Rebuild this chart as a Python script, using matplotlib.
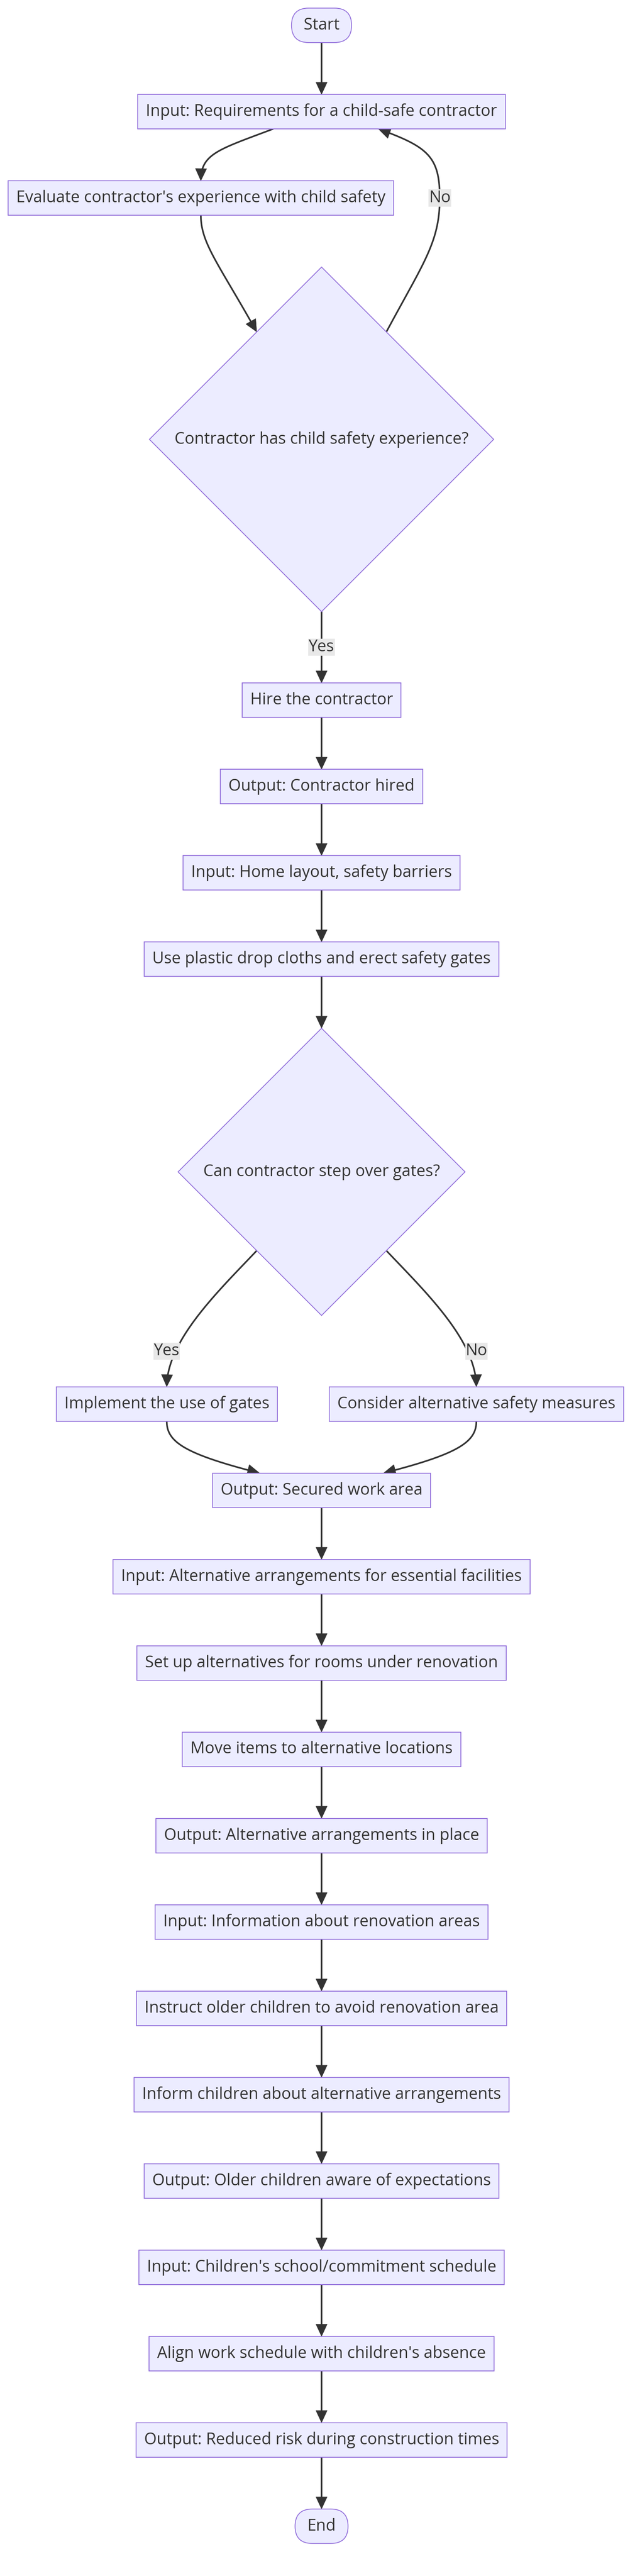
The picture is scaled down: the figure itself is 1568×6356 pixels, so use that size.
import numpy as np
import matplotlib.pyplot as plt
from matplotlib.patches import Polygon, Rectangle, FancyBboxPatch

W, H = 1568, 6356
FILL = '#ECECFF'
STROKE = '#9370DB'
INK = '#333333'
LABEL_BG = '#E8E8E8'
FONT = ['Open Sans', 'DejaVu Sans']
WEIGHT = 'medium'

# ---- flowchart content ----
node_text = [
    "Start",
    "Input: Requirements for a child-safe contractor",
    "Evaluate contractor's experience with child safety",
    "Contractor has child safety experience?",
    "Hire the contractor",
    "Output: Contractor hired",
    "Input: Home layout, safety barriers",
    "Use plastic drop cloths and erect safety gates",
    "Can contractor step over gates?",
    "Implement the use of gates",
    "Consider alternative safety measures",
    "Output: Secured work area",
    "Input: Alternative arrangements for essential facilities",
    "Set up alternatives for rooms under renovation",
    "Move items to alternative locations",
    "Output: Alternative arrangements in place",
    "Input: Information about renovation areas",
    "Instruct older children to avoid renovation area",
    "Inform children about alternative arrangements",
    "Output: Older children aware of expectations",
    "Input: Children's school/commitment schedule",
    "Align work schedule with children's absence",
    "Output: Reduced risk during construction times",
    "End",
]
node_shape = ['stadium'] + ['box'] * 2 + ['diamond'] + ['box'] * 4 + ['diamond'] + ['box'] * 14 + ['stadium']
node_rank = [0, 1, 2, 3, 4, 5, 6, 7, 8, 9, 9, 10, 11, 12, 13, 14, 15, 16, 17, 18, 19, 20, 21, 22]
node_lane = ['c', 'c', 'west', 'c', 'c', 'c', 'c', 'c', 'c', 'pairL', 'pairR'] + ['c'] * 13

edge_src = [0, 1, 2, 3, 3, 4, 5, 6, 7, 8, 8, 9, 10, 11, 12, 13, 14, 15, 16, 17, 18, 19, 20, 21, 22]
edge_dst = [1, 2, 3, 4, 1, 5, 6, 7, 8, 9, 10, 11, 11, 12, 13, 14, 15, 16, 17, 18, 19, 20, 21, 22, 23]
edge_label = ['', '', '', 'Yes', 'No', '', '', '', '', 'Yes', 'No'] + [''] * 14

# ---- layout constants (pixels) ----
TOP = 20
CX = 794
MARGIN = 20
BOX_H = 85
GAP = 128
GAP_LABEL = 176
PAIR_GAP = 128
PAD_BOX = 20
PAD_STADIUM = 30
DIAMOND_PAD = 62
DIAG_OFF = 160
HEAD_L = 30
HEAD_HW = 14
LINE_W = 4 * 0.72

fig = plt.figure(figsize=(W / 100, H / 100), dpi=100)
ax = fig.add_axes([0, 0, 1, 1])
ax.set_xlim(0, W)
ax.set_ylim(H, 0)
ax.axis('off')
renderer = fig.canvas.get_renderer()


def text_width(s, size):
    t = ax.text(0, 0, s, fontsize=size, family=FONT, fontweight=WEIGHT)
    w = t.get_window_extent(renderer).width
    t.remove()
    return w


# font size chosen so the widest-known line matches the picture (866 px)
FS = 30 * 866 / text_width(node_text[1], 30)

n = len(node_text)
tw = [text_width(s, FS) for s in node_text]
nw, nh = [], []
for i in range(n):
    if node_shape[i] == 'diamond':
        half = tw[i] / 2 + DIAMOND_PAD
        nw.append(2 * half)
        nh.append(2 * half)
    elif node_shape[i] == 'stadium':
        nw.append(tw[i] + 2 * PAD_STADIUM)
        nh.append(BOX_H)
    else:
        nw.append(tw[i] + 2 * PAD_BOX)
        nh.append(BOX_H)

# vertical placement by rank
n_ranks = max(node_rank) + 1
rank_h = [max(nh[i] for i in range(n) if node_rank[i] == r) for r in range(n_ranks)]
labelled_rank = {node_rank[s] for s, d, l in zip(edge_src, edge_dst, edge_label)
                 if l and node_rank[d] > node_rank[s]}
rank_top = []
y = TOP
for r in range(n_ranks):
    rank_top.append(y)
    y += rank_h[r] + (GAP_LABEL if r in labelled_rank else GAP)

ny = [rank_top[node_rank[i]] + rank_h[node_rank[i]] / 2 for i in range(n)]
pair = [i for i in range(n) if node_lane[i] in ('pairL', 'pairR')]
pair_d = (sum(nw[i] for i in pair) / 2 + PAIR_GAP) / 2
nx = []
for i in range(n):
    lane = node_lane[i]
    if lane == 'west':
        nx.append(MARGIN + nw[i] / 2)
    elif lane == 'pairL':
        nx.append(CX - pair_d)
    elif lane == 'pairR':
        nx.append(CX + pair_d)
    else:
        nx.append(CX)


def top(i):
    return ny[i] - nh[i] / 2


def bottom(i):
    return ny[i] + nh[i] / 2


# ---- nodes ----
for i in range(n):
    x, yc, w, h = nx[i], ny[i], nw[i], nh[i]
    if node_shape[i] == 'diamond':
        p = Polygon([(x, yc - h / 2), (x + w / 2, yc), (x, yc + h / 2), (x - w / 2, yc)],
                    closed=True, fc=FILL, ec=STROKE, lw=1.5, zorder=3)
    elif node_shape[i] == 'stadium':
        p = FancyBboxPatch((x - w / 2, yc - h / 2), w, h,
                           boxstyle=f'round,pad=0,rounding_size={h / 2}',
                           fc=FILL, ec=STROKE, lw=1.5, zorder=3)
    else:
        p = Rectangle((x - w / 2, yc - h / 2), w, h, fc=FILL, ec=STROKE, lw=1.5, zorder=3)
    ax.add_patch(p)
    ax.text(x, yc, node_text[i], ha='center', va='center', fontsize=FS,
            color=INK, family=FONT, fontweight=WEIGHT, zorder=4)


# ---- edges ----
def bez(p0, p3, f1, f2, num=80):
    p0 = np.asarray(p0, float)
    p3 = np.asarray(p3, float)
    d = p3 - p0
    p1 = p0 + np.asarray(f1) * d
    p2 = p0 + np.asarray(f2) * d
    t = np.linspace(0, 1, num)[:, None]
    return (1 - t) ** 3 * p0 + 3 * (1 - t) ** 2 * t * p1 + 3 * (1 - t) * t ** 2 * p2 + t ** 3 * p3


def draw_arrow(pts):
    tip = pts[-1]
    d = pts[-1] - pts[-3]
    d = d / np.hypot(*d)
    base = tip - d * HEAD_L
    dist = np.hypot(*(pts - tip).T)
    keep = pts[dist > HEAD_L - 2]
    line = np.vstack([keep, tip - d * (HEAD_L - 2)])
    ax.plot(line[:, 0], line[:, 1], color=INK, lw=LINE_W, solid_capstyle='butt', zorder=2)
    perp = np.array([-d[1], d[0]])
    ax.add_patch(Polygon([tip, base + perp * HEAD_HW, base - perp * HEAD_HW],
                         closed=True, fc=INK, ec=INK, lw=0.5, zorder=2))


def put_label(x, y, s):
    ax.text(x, y, s, ha='center', va='center', fontsize=FS, color=INK, family=FONT,
            fontweight=WEIGHT, zorder=5,
            bbox=dict(boxstyle='square,pad=0.02', fc=LABEL_BG, ec='none'))


west = [i for i in range(n) if node_lane[i] == 'west'][0]
no_lane_x = nx[west] + nw[west] / 2 + 114

for s, d, lab in zip(edge_src, edge_dst, edge_label):
    if node_rank[d] < node_rank[s]:
        # back edge: climbs along the lane right of the west node
        p0 = (nx[s] + DIAG_OFF, top(s) + DIAG_OFF)
        pm = (no_lane_x, ny[west])
        p3 = (nx[d] + 0.48 * (no_lane_x - nx[d]), bottom(d))
        pts = np.vstack([bez(p0, pm, (0.7, 0.52), (1.0, 0.67)),
                         bez(pm, p3, (0.0, 0.6), (0.19, 0.74))[1:]])
        draw_arrow(pts)
        if lab:
            put_label(pm[0], pm[1], lab)
        continue
    if abs(nx[s] - nx[d]) < 1:
        x = nx[s]
        pts = np.array([[x, bottom(s)], [x, (bottom(s) + top(d)) / 2], [x, top(d)]])
    elif node_shape[s] == 'diamond':
        sgn = np.sign(nx[d] - nx[s])
        p0 = (nx[s] + sgn * DIAG_OFF, bottom(s) - DIAG_OFF)
        pts = bez(p0, (nx[d], top(d)), (0.43, 0.3), (1.0, 0.66))
    elif node_shape[d] == 'diamond':
        sgn = np.sign(nx[s] - nx[d])
        p3 = (nx[d] + sgn * DIAG_OFF, top(d) + DIAG_OFF)
        pts = bez((nx[s], bottom(s)), p3, (0.0, 0.24), (0.31, 0.41))
    elif node_lane[s] == 'c':
        p0 = (nx[s] + 0.4 * (nx[d] - nx[s]), bottom(s))
        pts = bez(p0, (nx[d], top(d)), (0.76, 0.4), (1.0, 0.48))
    else:
        p3 = (nx[d] + 0.4 * (nx[s] - nx[d]), top(d))
        pts = bez((nx[s], bottom(s)), p3, (0.0, 0.4), (0.19, 0.63))
    draw_arrow(pts)
    if lab:
        put_label(nx[d], (bottom(s) + top(d)) / 2, lab)

fig.savefig('out.png', dpi=100, facecolor='white')
